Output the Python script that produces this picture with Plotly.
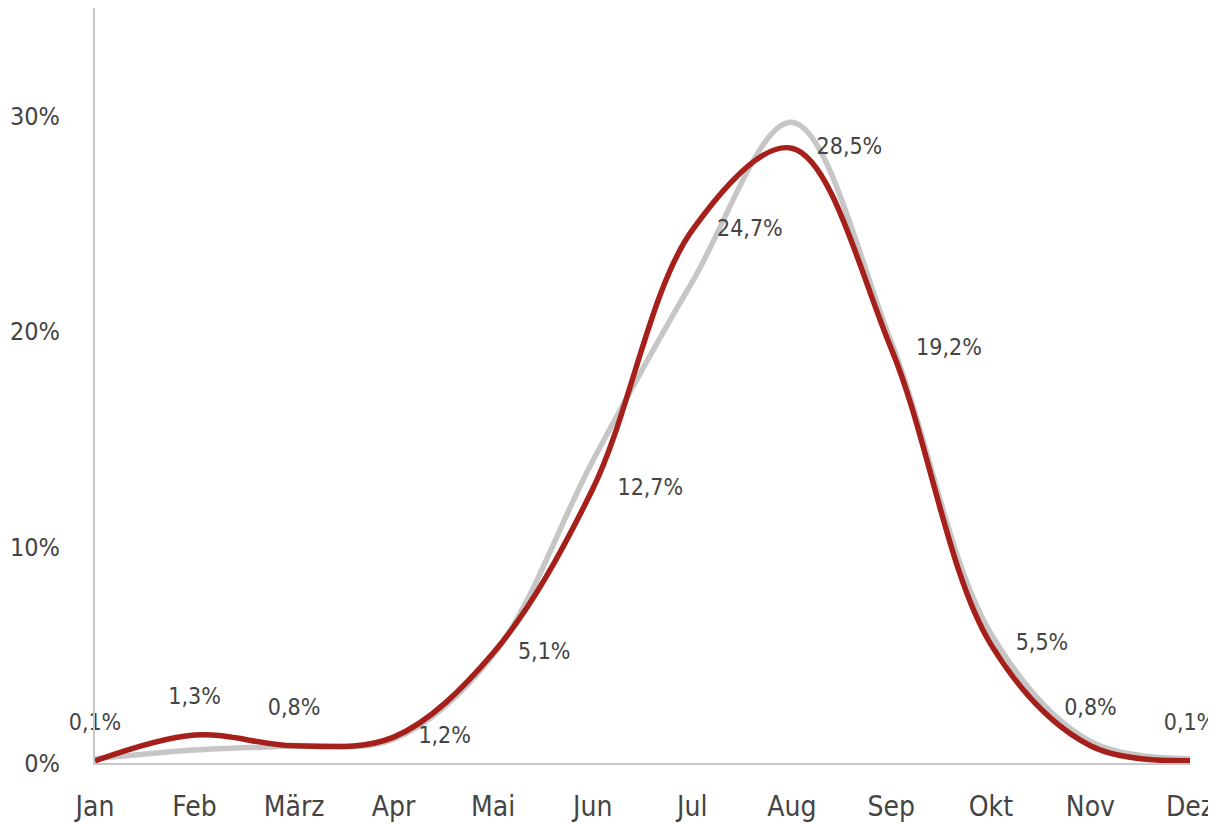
import plotly.graph_objects as go

months = ["Jan", "Feb", "März", "Apr", "Mai", "Jun", "Jul", "Aug", "Sep", "Okt", "Nov", "Dez"]
red_values = [0.1, 1.3, 0.8, 1.2, 5.1, 12.7, 24.7, 28.5, 19.2, 5.5, 0.8, 0.1]
gray_values = [0.2, 0.6, 0.8, 1.1, 5.0, 14.0, 22.3, 29.7, 19.5, 6.0, 1.0, 0.2]
label_positions = ["top center", "top center", "top center", "middle right", "middle right",
                   "middle right", "middle right", "middle right", "middle right",
                   "middle right", "top center", "top center"]
y_ticks = [0, 10, 20, 30]
y_ticktext = ["0%", "10%", "20%", "30%"]

FONT = "Liberation Sans Narrow, DejaVu Sans Condensed, Arial Narrow, sans-serif"
TEXT_COLOR = "#444444"

fig = go.Figure()
fig.add_trace(go.Scatter(
    x=months, y=gray_values, mode="lines",
    line=dict(color="#c6c6c6", width=5.5, shape="spline", smoothing=1.0),
    cliponaxis=False, hoverinfo="skip", showlegend=False))
fig.add_trace(go.Scatter(
    x=months, y=red_values, mode="lines+markers+text",
    line=dict(color="#a51f1b", width=5.5, shape="spline", smoothing=1.0),
    marker=dict(size=38, opacity=0, color="#a51f1b"),
    text=[f"{v:.1f}%".replace(".", ",") for v in red_values],
    textposition=label_positions,
    textfont=dict(family=FONT, size=23, color=TEXT_COLOR),
    cliponaxis=False, showlegend=False))

# page body has an 8px margin, so the figure is sized/offset to compensate
fig.update_layout(
    width=1208, height=816,
    margin=dict(l=87, r=26, t=0, b=61, autoexpand=False),
    paper_bgcolor="white", plot_bgcolor="white",
    font=dict(family=FONT, color=TEXT_COLOR),
)
fig.update_xaxes(
    type="category", range=[0, 11], automargin=False,
    showgrid=False, zeroline=False,
    showline=True, linecolor="#c8c8c8", linewidth=2,
    ticks="", tickfont=dict(family=FONT, size=28, color=TEXT_COLOR),
    ticklabelstandoff=17,
)
fig.update_yaxes(
    range=[0, 35], tickvals=y_ticks, ticktext=y_ticktext, automargin=False,
    showgrid=False, zeroline=False,
    showline=True, linecolor="#c8c8c8", linewidth=2,
    ticks="", tickfont=dict(family=FONT, size=25, color=TEXT_COLOR),
    ticklabelstandoff=28,
)

fig.write_html("out.html")
